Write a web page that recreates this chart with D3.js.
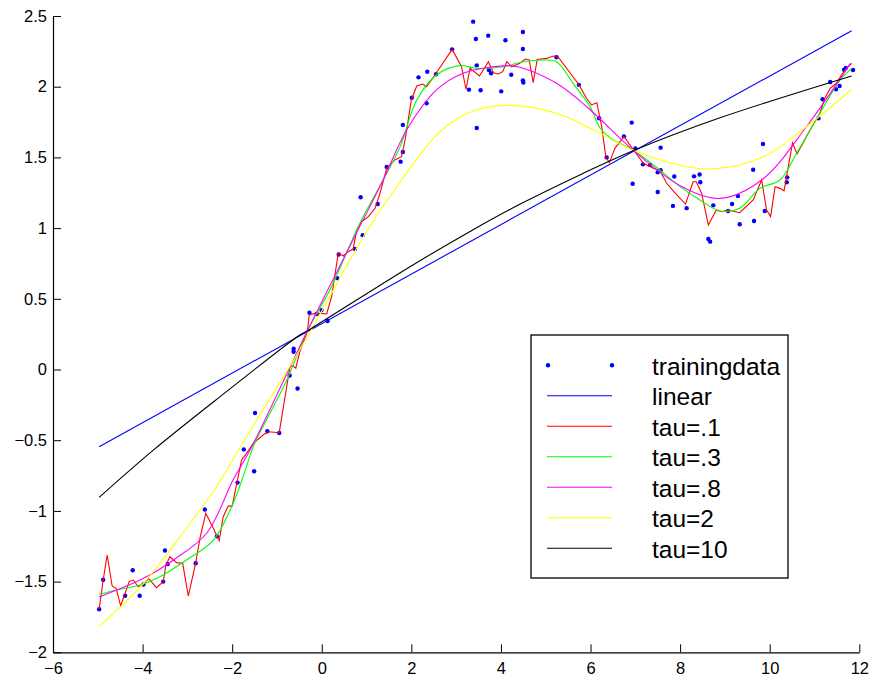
<!DOCTYPE html>
<html>
<head>
<meta charset="utf-8">
<script src="https://cdn.jsdelivr.net/npm/d3@7"></script>
<style>
  html, body { margin: 0; padding: 0; background: #ffffff; }
  svg { display: block; }
  text { font-family: "Liberation Sans", Arial, Helvetica, sans-serif; fill: #000; }
</style>
</head>
<body>
<svg id="chart" width="871" height="678"></svg>
<script>
// ---------------- data ----------------
const xTicks = [-6, -4, -2, 0, 2, 4, 6, 8, 10, 12];
const yTicks = [-2, -1.5, -1, -0.5, 0, 0.5, 1, 1.5, 2, 2.5];

const trainX = [-4.97,-4.88,-4.39,-4.22,-4.065,-3.98,-3.54,-3.50,-3.44,-2.815,-2.61,-2.34,-1.88,-1.74,-1.51,-1.49,-1.216,-0.95,-0.717,-0.628,-0.628,-0.54,-0.275,-0.114,-0.005,0.13,0.346,0.377,0.74,0.868,0.913,1.248,1.45,1.76,1.81,1.81,2.01,2.16,2.34,2.355,2.55,2.91,3.286,3.38,3.44,3.46,3.46,3.547,3.716,3.73,3.78,4.006,4.10,4.23,4.49,4.49,4.49,4.50,5.24,5.74,6.19,6.36,6.746,6.92,6.94,7.0,7.17,7.33,7.5,7.5,7.565,7.565,7.84,7.87,8.145,8.31,8.435,8.45,8.63,8.67,8.74,9.07,9.16,9.29,9.33,9.63,9.65,9.85,9.89,10.38,10.39,11.09,11.18,11.35,11.48,11.56,11.66,11.70,11.86];
const trainY = [-1.696,-1.487,-1.60,-1.42,-1.60,-1.52,-1.50,-1.28,-1.375,-1.37,-0.99,-1.18,-0.80,-0.565,-0.72,-0.308,-0.437,-0.449,-0.042,0.147,0.126,-0.134,0.402,0.393,0.42,0.343,0.646,0.813,0.852,1.218,0.95,1.17,1.432,1.47,1.538,1.73,1.922,2.066,1.883,2.106,2.088,2.264,1.979,2.46,2.337,2.151,1.708,1.975,2.361,2.118,2.095,1.967,2.328,2.085,2.387,2.267,2.045,2.03,2.208,2.013,1.777,1.50,1.649,1.746,1.314,1.563,1.451,1.447,1.395,1.255,1.569,1.409,1.157,1.365,1.141,1.366,1.379,1.324,0.923,0.904,1.161,1.121,1.17,1.227,1.027,1.413,1.05,1.595,1.121,1.324,1.359,1.777,1.911,2.033,1.982,2.005,2.12,2.132,2.118];

const linearX = [-4.97, 11.83];
const linearY = [-0.546, 2.396];

const tau01X = [-4.97,-4.88,-4.79,-4.68,-4.59,-4.49,-4.41,-4.30,-4.21,-4.10,-3.98,-3.87,-3.69,-3.54,-3.48,-3.39,-3.24,-3.105,-2.98,-2.815,-2.72,-2.59,-2.42,-2.29,-2.20,-2.09,-2.0,-1.89,-1.79,-1.68,-1.53,-1.31,-1.19,-0.95,-0.71,-0.65,-0.58,-0.49,-0.32,-0.28,-0.15,0.0,0.11,0.22,0.37,0.48,0.59,0.70,0.78,0.89,1.04,1.19,1.30,1.34,1.45,1.63,1.78,1.86,2.0,2.12,2.25,2.34,2.54,2.91,3.12,3.22,3.31,3.52,3.72,3.83,3.94,4.04,4.13,4.24,4.42,4.54,4.63,4.72,4.81,5.02,5.17,5.28,5.74,5.91,6.02,6.14,6.25,6.34,6.42,6.545,6.746,6.88,6.99,7.18,7.4,7.55,7.7,7.86,8.12,8.29,8.36,8.48,8.63,8.81,8.93,9.07,9.33,9.63,9.82,9.93,10.02,10.12,10.23,10.32,10.51,10.61,10.9,11.12,11.23,11.35,11.49,11.60,11.72,11.83];
const tau01Y = [-1.696,-1.489,-1.312,-1.531,-1.547,-1.672,-1.60,-1.50,-1.489,-1.536,-1.52,-1.477,-1.543,-1.50,-1.383,-1.324,-1.366,-1.371,-1.602,-1.37,-1.194,-1.017,-1.123,-1.211,-1.041,-0.966,-0.966,-0.794,-0.64,-0.593,-0.522,-0.463,-0.44,-0.447,0.02,0.027,0.009,0.126,0.27,0.385,0.397,0.397,0.393,0.515,0.826,0.803,0.833,0.852,0.987,1.045,1.081,1.14,1.246,1.293,1.423,1.482,1.505,1.623,1.906,2.005,2.019,2.0,2.09,2.264,2.141,1.982,2.13,2.076,2.177,2.099,2.09,2.106,2.177,2.141,2.165,2.196,2.189,2.028,2.193,2.2,2.217,2.208,2.014,1.918,1.871,1.887,1.717,1.505,1.463,1.564,1.649,1.588,1.54,1.458,1.423,1.406,1.317,1.258,1.17,1.328,1.328,1.246,1.022,1.128,1.116,1.128,1.109,1.199,1.34,1.128,1.081,1.293,1.281,1.264,1.604,1.524,1.694,1.812,1.918,1.989,2.024,2.083,2.13,2.165];

const tau03X = [-4.97,-4.58,-4.06,-3.61,-3.02,-2.42,-1.98,-1.68,-1.53,-0.78,-0.32,0.18,0.85,1.37,1.75,2.12,2.56,3.08,3.46,4.05,4.5,4.94,5.24,5.61,5.99,6.21,6.51,6.95,7.55,8.0,8.44,8.89,9.33,9.78,10.23,10.6,11.12,11.57,11.83];
const tau03Y = [-1.59,-1.559,-1.524,-1.465,-1.347,-1.206,-0.946,-0.687,-0.546,-0.074,0.274,0.562,1.034,1.34,1.576,1.906,2.083,2.149,2.13,2.141,2.177,2.189,2.177,2.024,1.859,1.710,1.623,1.552,1.41,1.293,1.199,1.121,1.14,1.281,1.34,1.529,1.812,2.047,2.13];

const tau08X = [-4.97,-3.98,-3.31,-2.57,-1.98,-1.6,-0.32,0.81,1.37,1.895,2.56,3.16,4.13,4.42,5.24,5.91,6.99,8.0,8.89,9.82,10.82,11.8];
const tau08Y = [-1.609,-1.477,-1.347,-1.158,-0.781,-0.569,0.274,0.987,1.34,1.694,1.977,2.095,2.149,2.137,2.024,1.86,1.54,1.30,1.21,1.34,1.717,2.165];

const tau2X = [-4.97,-3.98,-3.02,-2.35,-1.86,-0.45,1.02,1.78,2.27,2.6,3.0,3.4,4.13,5.24,5.99,6.95,7.8,8.67,9.86,10.82,11.83];
const tau2Y = [-1.819,-1.512,-1.123,-0.829,-0.569,0.161,0.987,1.34,1.55,1.67,1.77,1.83,1.868,1.812,1.706,1.552,1.46,1.418,1.505,1.717,1.98];

const tau10X = [-4.97,-3.76,-2.27,-0.49,-0.32,1.97,3.37,4.42,5.76,6.95,8.89,11.83];
const tau10Y = [-0.904,-0.57,-0.192,0.244,0.274,0.727,0.987,1.168,1.376,1.547,1.78,2.076];

const legendLabels = ["trainingdata","linear","tau=.1","tau=.3","tau=.8","tau=2","tau=10"];
const seriesColors = ["#0000ff","#0000ff","#ff0000","#00ff00","#ff00ff","#ffff00","#000000"];

// ---------------- drawing ----------------
const svg = d3.select("#chart");
const x = d3.scaleLinear().domain([-6, 12]).range([53, 859.3]);
const y = d3.scaleLinear().domain([-2, 2.5]).range([652.3, 16]);

const fmt = d => (d < 0 ? "\u2212" : "") + Math.abs(d);

const xAxis = svg.append("g").attr("transform", `translate(0,${y(-2)})`)
  .call(d3.axisBottom(x).tickValues(xTicks).tickFormat(fmt).tickSizeInner(-8).tickSizeOuter(0).tickPadding(10));
const yAxis = svg.append("g").attr("transform", `translate(${x(-6)},0)`)
  .call(d3.axisLeft(y).tickValues(yTicks).tickFormat(fmt).tickSizeInner(-8).tickSizeOuter(0).tickPadding(6));
[xAxis, yAxis].forEach(g => {
  g.selectAll("path.domain").attr("stroke", "#000").attr("stroke-width", 1.2);
  g.selectAll(".tick line").attr("stroke", "#000").attr("stroke-width", 1);
  g.selectAll(".tick text").attr("font-size", "16.5px").attr("font-family", "Liberation Sans, Arial, sans-serif").attr("fill", "#000");
});

const zip = (xs, ys) => xs.map((v, i) => [v, ys[i]]);
const lineLin = d3.line().x(d => x(d[0])).y(d => y(d[1])).curve(d3.curveLinear);
const lineSmooth = d3.line().x(d => x(d[0])).y(d => y(d[1])).curve(d3.curveCatmullRom.alpha(0.5));

const curves = [
  [linearX, linearY, seriesColors[1], lineLin],
  [tau01X, tau01Y, seriesColors[2], lineLin],
  [tau03X, tau03Y, seriesColors[3], lineSmooth],
  [tau08X, tau08Y, seriesColors[4], lineSmooth],
  [tau2X, tau2Y, seriesColors[5], lineSmooth],
  [tau10X, tau10Y, seriesColors[6], lineSmooth]
];

svg.append("g").selectAll("circle").data(zip(trainX, trainY)).join("circle")
  .attr("cx", d => x(d[0])).attr("cy", d => y(d[1])).attr("r", 2.2)
  .attr("fill", seriesColors[0]);

curves.forEach(([xs, ys, col, gen]) => {
  svg.append("path").datum(zip(xs, ys))
    .attr("d", gen).attr("fill", "none").attr("stroke", col).attr("stroke-width", 1.1);
});

// legend
const lg = svg.append("g");
lg.append("rect").attr("x", 531).attr("y", 335).attr("width", 257).attr("height", 243)
  .attr("fill", "#fff").attr("stroke", "#000").attr("stroke-width", 1.3);
legendLabels.forEach((lab, i) => {
  const cy = 365.3 + i * 30.5;
  if (i === 0) {
    [548, 612].forEach(cx => lg.append("circle").attr("cx", cx).attr("cy", cy).attr("r", 2.2).attr("fill", seriesColors[0]));
  } else {
    lg.append("line").attr("x1", 547).attr("x2", 612).attr("y1", cy).attr("y2", cy)
      .attr("stroke", seriesColors[i]).attr("stroke-width", 1.1);
  }
  lg.append("text").attr("x", 652).attr("y", cy + 9.5).attr("font-size", "24.5px").text(lab);
});
</script>
</body>
</html>
